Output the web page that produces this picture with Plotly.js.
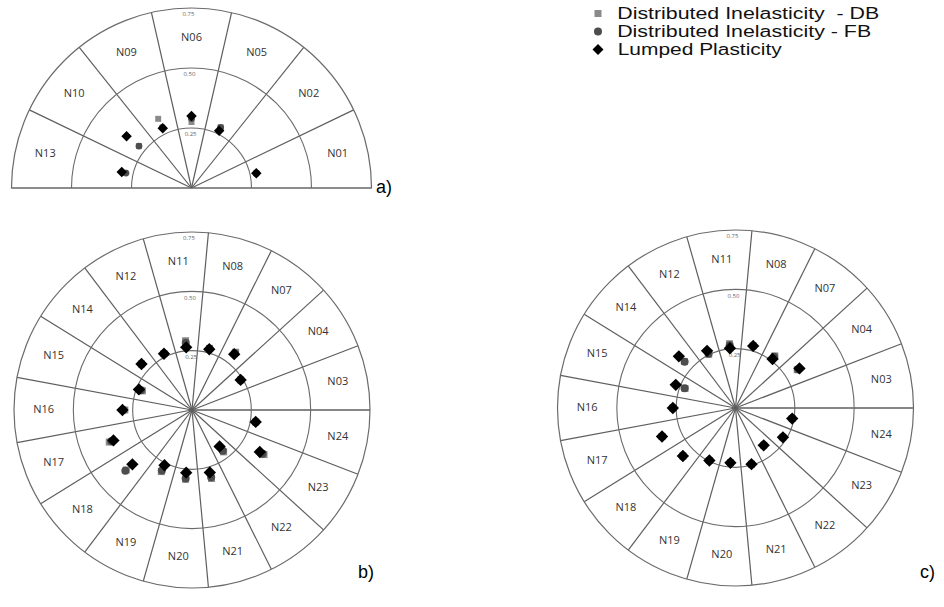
<!DOCTYPE html>
<html>
<head>
<meta charset="utf-8">
<script src="https://cdn.plot.ly/plotly-3.0.1.min.js"></script>
<style>
  html, body { margin: 0; padding: 0; background: #fff; }
  #chart { width: 944px; height: 607px; }
</style>
</head>
<body>
<div id="chart"></div>
<script>
// Node sectors, counter-clockwise from the 0° direction
const nodesA = ['N01', 'N02', 'N05', 'N06', 'N09', 'N10', 'N13'];
const nodesBC = ['N03', 'N04', 'N07', 'N08', 'N11', 'N12', 'N14', 'N15', 'N16',
                 'N17', 'N18', 'N19', 'N20', 'N21', 'N22', 'N23', 'N24'];

// a) semicircular layout
const dbA = [0.277, null, 0.280, 0.275, 0.320, 0.280, 0.285];
const fbA = [0.277, null, 0.280, 0.290, 0.280, 0.280, 0.280];
const lpA = [0.277, null, 0.265, 0.300, 0.276, 0.346, 0.298];

// b) full circle
const dbB = [null, 0.241, 0.305, 0.270, 0.293, 0.265, 0.288, 0.224, 0.283,
             0.374, 0.375, 0.290, 0.293, 0.300, 0.221, 0.357, 0.273];
const fbB = [null, 0.241, 0.300, 0.268, 0.285, 0.265, 0.288, 0.230, 0.290,
             0.365, 0.380, 0.285, 0.290, 0.295, 0.215, 0.350, 0.273];
const lpB = [null, 0.241, 0.295, 0.266, 0.265, 0.265, 0.288, 0.240, 0.293,
             0.355, 0.340, 0.260, 0.265, 0.274, 0.193, 0.336, 0.273];

// c) full circle
const dbC = [null, 0.306, 0.275, 0.272, 0.272, 0.253, 0.291, 0.228, 0.264,
             0.332, 0.300, 0.247, 0.232, 0.246, 0.197, 0.235, 0.243];
const fbC = [null, 0.310, 0.270, 0.272, 0.265, 0.255, 0.290, 0.230, 0.264,
             0.332, 0.300, 0.247, 0.232, 0.246, 0.197, 0.235, 0.243];
const lpC = [null, 0.317, 0.259, 0.272, 0.253, 0.269, 0.323, 0.270, 0.264,
             0.332, 0.300, 0.247, 0.232, 0.246, 0.197, 0.235, 0.243];

const ringVals = [0.25, 0.50, 0.75];
const ringLabels = ['0.25', '0.50', '0.75'];
const seriesNames = ['Distributed Inelasticity  - DB', 'Distributed Inelasticity - FB', 'Lumped Plasticity'];
const panelLabels = ['a)', 'b)', 'c)'];

// sector geometry helpers (angles in degrees)
const centers = (n, span) => Array.from({length: n}, (_, i) => (i + 0.5) * span / n);
const bounds = (n, span) => Array.from({length: n + 1}, (_, i) => i * span / n);

const thetaA = centers(nodesA.length, 180);
const thetaBC = centers(nodesBC.length, 360);

const markerStyles = [
  {symbol: 'square', color: '#8a8a8a', size: 7},
  {symbol: 'circle', color: '#4d4d4d', size: 8},
  {symbol: 'diamond', color: '#000000', size: 9.5}
];

const traces = [];
function addPanel(sub, nodes, theta, series, scale) {
  // node names in the middle of each sector
  traces.push({
    type: 'scatterpolar', subplot: sub, mode: 'text',
    r: nodes.map(() => 0.625), theta: theta, text: nodes,
    textfont: {family: 'Open Sans, DejaVu Sans, sans-serif', size: 11, color: '#333'},
    hoverinfo: 'skip', showlegend: false
  });
  // ring values along the vertical
  traces.push({
    type: 'scatterpolar', subplot: sub, mode: 'text',
    r: ringVals.map(v => v - 0.028), theta: ringVals.map(() => 91), text: ringLabels,
    textfont: {family: 'Open Sans, DejaVu Sans, sans-serif', size: 6, color: '#666'},
    hoverinfo: 'skip', showlegend: false
  });
  series.forEach((vals, k) => {
    const st = markerStyles[k];
    traces.push({
      type: 'scatterpolar', subplot: sub, mode: 'markers',
      name: seriesNames[k], r: vals, theta: theta,
      marker: {symbol: st.symbol, color: st.color, size: st.size * scale, line: {width: 0}},
      showlegend: false
    });
  });
}
addPanel('polar', nodesA, thetaA, [dbA, fbA, lpA], 0.85);
addPanel('polar2', nodesBC, thetaBC, [dbB, fbB, lpB], 1);
addPanel('polar3', nodesBC, thetaBC, [dbC, fbC, lpC], 1);

function polarAxes(domain, nSect, span) {
  return {
    domain: domain,
    sector: [0, span],
    bgcolor: 'rgba(0,0,0,0)',
    radialaxis: {
      range: [0, 0.75], tickmode: 'array', tickvals: ringVals,
      showticklabels: false, ticks: '', showline: false,
      gridcolor: '#6b6b6b', gridwidth: 1.1
    },
    angularaxis: {
      type: 'linear', direction: 'counterclockwise', rotation: 0,
      tickmode: 'array', tickvals: bounds(nSect, span),
      showticklabels: false, ticks: '',
      showline: true, linecolor: '#6b6b6b', linewidth: 1.2,
      gridcolor: '#5e5e5e', gridwidth: 1.2
    }
  };
}

const W = 944, H = 607;
const px = v => v / W;
const py = v => 1 - v / H;

// legend keys and entries, one row per series
const legendX = 598, legendTextX = 617, legendRows = [13.5, 31.5, 49.5];
const legendWidths = [262, 254, 164];
const keyShapes = [
  {type: 'rect', x0: -3.5, x1: 3.5, y0: -3.5, y1: 3.5, fillcolor: markerStyles[0].color},
  {type: 'circle', x0: -4, x1: 4, y0: -4, y1: 4, fillcolor: markerStyles[1].color},
  {type: 'path', path: 'M 0 5.5 L 5.5 0 L 0 -5.5 L -5.5 0 Z', fillcolor: markerStyles[2].color}
].map((s, k) => Object.assign({
  xref: 'paper', yref: 'paper', xsizemode: 'pixel', ysizemode: 'pixel',
  xanchor: px(legendX), yanchor: py(legendRows[k]), line: {width: 0}
}, s));

// each entry is centred on its final span so the stretch keeps its left edge
const legendText = seriesNames.map((name, k) => ({
  x: px(legendTextX + legendWidths[k] / 2), y: py(legendRows[k]), text: name,
  xanchor: 'center', yanchor: 'middle', borderpad: 0,
  font: {family: 'Liberation Sans, Arial, sans-serif', size: 16, color: '#111'}
}));

const panelText = [
  {x: px(384), y: py(187), text: panelLabels[0]},
  {x: px(366), y: py(572), text: panelLabels[1]},
  {x: px(927), y: py(572), text: panelLabels[2]}
].map(a => Object.assign({
  xanchor: 'center', yanchor: 'middle',
  font: {family: 'Liberation Sans, Arial, sans-serif', size: 18, color: '#000'}
}, a));

const layout = {
  width: W, height: H,
  margin: {l: 0, r: 0, t: 0, b: 0},
  paper_bgcolor: '#fff',
  showlegend: false,
  polar: polarAxes({x: [px(11.5), px(371.5)], y: [py(188), py(8)]}, nodesA.length, 180),
  polar2: polarAxes({x: [px(14), px(370)], y: [py(588), py(232)]}, nodesBC.length, 360),
  polar3: polarAxes({x: [px(557.5), px(913.5)], y: [py(586), py(230)]}, nodesBC.length, 360),
  shapes: keyShapes,
  annotations: legendText.concat(panelText).map(a => Object.assign({
    xref: 'paper', yref: 'paper', showarrow: false
  }, a))
};

Plotly.newPlot('chart', traces, layout, {displayModeBar: false, staticPlot: true}).then(gd => {
  // the legend entries are set in a wide face: stretch each line to its width
  const texts = gd.querySelectorAll('.annotation-text');
  legendWidths.forEach((w, k) => {
    if (texts[k]) {
      texts[k].setAttribute('textLength', w);
      texts[k].setAttribute('lengthAdjust', 'spacingAndGlyphs');
    }
  });
});
</script>
</body>
</html>
